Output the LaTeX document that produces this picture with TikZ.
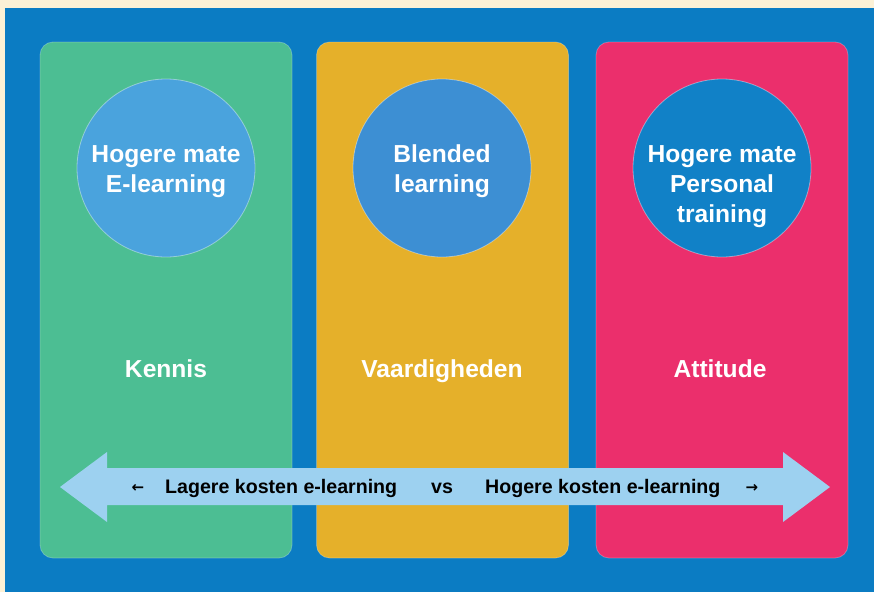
\documentclass[tikz,border=0pt]{standalone}
\usepackage{fontspec}
\setmainfont{Liberation Sans}
\newfontfamily\arrowfont{DejaVu Sans}
\definecolor{cream}{HTML}{FCF1D6}
\definecolor{bgblue}{HTML}{0B7CC3}
\definecolor{pgreen}{HTML}{4CBE93}
\definecolor{pyellow}{HTML}{E5B02A}
\definecolor{ppink}{HTML}{EB2F6C}
\definecolor{cgreen}{HTML}{4AA3DD}
\definecolor{cyellow}{HTML}{3D8FD3}
\definecolor{cpink}{HTML}{1181C7}
\definecolor{arrowblue}{HTML}{9DD1F0}
\tikzset{
  panel/.style={draw=white, draw opacity=0.25, line width=0.8pt, rounded corners=13pt, minimum width=252pt, minimum height=516pt, inner sep=0pt},
  circ/.style={circle, draw=white, draw opacity=0.4, line width=0.8pt, minimum size=178pt, inner sep=0pt},
  ctext/.style={text=white, font=\bfseries\fontsize{24.6}{30}\selectfont, align=center, inner sep=0pt, anchor=base},
  ptext/.style={text=white, font=\bfseries\fontsize{24.6}{30}\selectfont, inner sep=0pt, anchor=base},
  btext/.style={text=black, font=\bfseries\fontsize{19.6}{24}\selectfont, inner sep=0pt, anchor=base},
  atext/.style={text=black, font=\arrowfont\bfseries\fontsize{15}{16}\selectfont, inner sep=0pt, anchor=base}
}
\begin{document}
\begin{tikzpicture}[x=1pt,y=-1pt]
\useasboundingbox (0,0) rectangle (874,592);
\fill[cream] (0,0) rectangle (874,592);
\fill[bgblue] (5,8) rectangle (874,592);
% panels
\node[panel, fill=pgreen] (p1) at (166,300) {};
\node[panel, fill=pyellow] (p2) at (442.5,300) {};
\node[panel, fill=ppink] (p3) at (722,300) {};
% circles
\node[circ, fill=cgreen] (c1) at (166,168) {};
\node[circ, fill=cyellow] (c2) at (442,168) {};
\node[circ, fill=cpink] (c3) at (722,168) {};
\node[ctext] (t1) at (166,192) {Hogere mate\\E-learning};
\node[ctext] (t2) at (442,192) {Blended\\learning};
\node[ctext] (t3) at (722,222) {Hogere mate\\Personal\\training};
% panel labels
\node[ptext] (k1) at (166,377) {Kennis};
\node[ptext] (k2) at (442,377) {Vaardigheden};
\node[ptext] (k3) at (720,377) {Attitude};
% double arrow
\fill[arrowblue] (60,487) -- (107,452) -- (107,468) -- (783,468) -- (783,452) -- (830,487)
  -- (783,522) -- (783,505) -- (107,505) -- (107,522) -- cycle;
\node[atext] (al) at (138,492) {←};
\node[btext, anchor=base west] (lk) at (165,493) {Lagere kosten e-learning};
\node[btext] (vs) at (442,493) {vs};
\node[btext, anchor=base west] (hk) at (485,493) {Hogere kosten e-learning};
\node[atext] (ar) at (752,492) {→};
\end{tikzpicture}
\end{document}
